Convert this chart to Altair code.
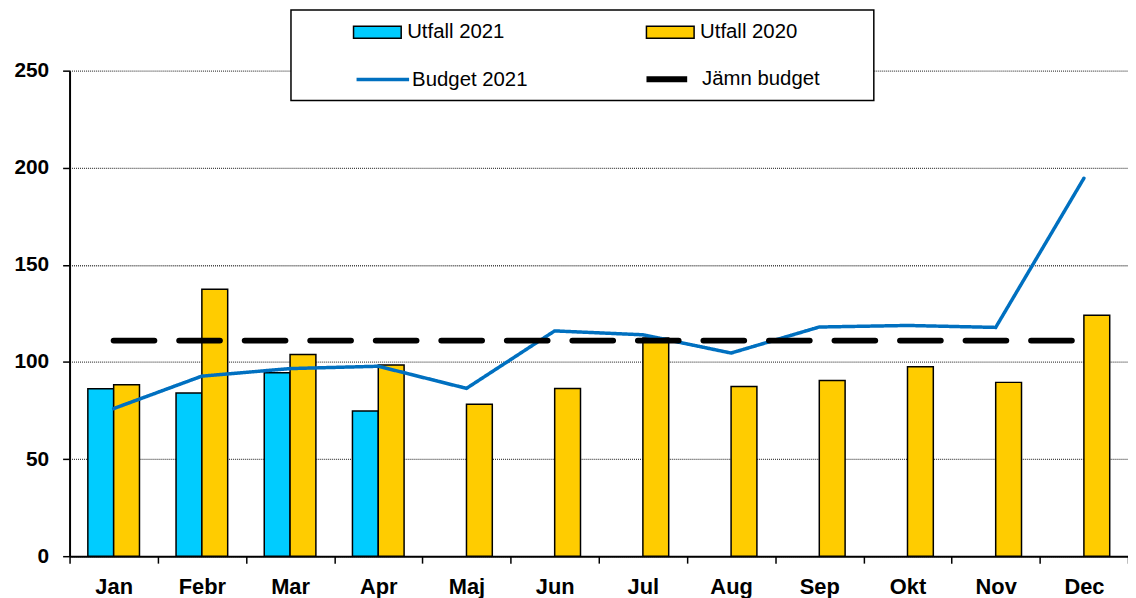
import altair as alt
import pandas as pd

months = ["Jan", "Febr", "Mar", "Apr", "Maj", "Jun", "Jul", "Aug", "Sep", "Okt", "Nov", "Dec"]
utfall_2021 = [86.2, 84.0, 94.4, 74.8, None, None, None, None, None, None, None, None]
utfall_2020 = [88.3, 137.5, 103.8, 98.5, 78.2, 86.4, 112.3, 87.4, 90.5, 97.6, 89.5, 124.0]
budget_2021 = [76.0, 92.7, 96.6, 97.8, 86.4, 116.0, 114.0, 104.6, 118.0, 118.8, 117.8, 194.6]
jamn_budget = [111.0] * 12

bar_series = ["Utfall 2021", "Utfall 2020"]
line_series = ["Budget 2021", "Jämn budget"]

bar_rows = []
for m, a, b in zip(months, utfall_2021, utfall_2020):
    if a is not None:
        bar_rows.append({"month": m, "series": "Utfall 2021", "value": a})
    if b is not None:
        bar_rows.append({"month": m, "series": "Utfall 2020", "value": b})
bar_df = pd.DataFrame(bar_rows)

line_rows = []
for m, a, b in zip(months, budget_2021, jamn_budget):
    line_rows.append({"month": m, "series": "Budget 2021", "value": a})
    line_rows.append({"month": m, "series": "Jämn budget", "value": b})
line_df = pd.DataFrame(line_rows)

FONT = "Liberation Sans"

x_enc = alt.X(
    "month:N", sort=months,
    scale=alt.Scale(domain=months, paddingInner=0, paddingOuter=0),
    axis=alt.Axis(title=None, labelAngle=0, labelFont=FONT, labelFontWeight="bold",
                  labelFontSize=22, labelColor="black", labelPadding=14,
                  tickBand="extent", tickSize=7, tickColor="black", tickWidth=1.5,
                  domainColor="black", domainWidth=2, grid=False),
)
y_enc = alt.Y(
    "value:Q",
    scale=alt.Scale(domain=[0, 250], nice=False),
    axis=alt.Axis(title=None, values=[0, 50, 100, 150, 200, 250], labelFont=FONT,
                  labelFontWeight="bold", labelFontSize=21, labelColor="black",
                  labelPadding=14, tickSize=7, tickColor="black", tickWidth=1.5,
                  domainColor="black", domainWidth=2, grid=True, gridColor="#444444",
                  gridDash=[1, 1], gridWidth=1.3),
)

box = alt.Chart(pd.DataFrame({"k": [0]})).mark_rect(
    fill="white", stroke="black", strokeWidth=1.5
).encode(x=alt.value(223), x2=alt.value(810), y=alt.value(-61), y2=alt.value(30))

bars = alt.Chart(bar_df).mark_bar(stroke="black", strokeWidth=1.5).encode(
    x=x_enc,
    xOffset=alt.XOffset("series:N", scale=alt.Scale(domain=bar_series, paddingInner=0, paddingOuter=0.708)),
    y=y_enc,
    fill=alt.Fill(
        "series:N",
        scale=alt.Scale(domain=bar_series, range=["#00CCFF", "#FFCC00"]),
        legend=alt.Legend(title=None, orient="none", legendX=285, legendY=-64,
                          direction="horizontal", columns=2, columnPadding=139,
                          symbolType="M-1,-0.25H1V0.25H-1Z", symbolSize=2304,
                          symbolStrokeColor="black", symbolStrokeWidth=1.5,
                          labelFont=FONT, labelFontSize=20.5, labelColor="black",
                          labelOffset=5, padding=0, labelLimit=300),
    ),
)

lines = alt.Chart(line_df).mark_line(strokeCap="round").encode(
    x=alt.X("month:N", sort=months),
    y=alt.Y("value:Q"),
    stroke=alt.Stroke(
        "series:N",
        scale=alt.Scale(domain=line_series, range=["#0070C0", "black"]),
        legend=alt.Legend(title=None, orient="none", legendX=286, legendY=-21,
                          direction="horizontal", columns=2, columnPadding=107,
                          symbolType="stroke", symbolSize=2800,
                          labelFont=FONT, labelFontSize=20.5, labelColor="black",
                          labelOffset=0, padding=0, labelLimit=300),
    ),
    strokeWidth=alt.StrokeWidth(
        "series:N", scale=alt.Scale(domain=line_series, range=[3.5, 6]),
    ),
    strokeDash=alt.StrokeDash(
        "series:N", scale=alt.Scale(domain=line_series, range=[[1, 0], [41, 25]]),
        legend=None,
    ),
)

chart = alt.layer(box, bars, lines).resolve_scale(
    color="independent"
).properties(
    width=1066, height=489,
    autosize=alt.AutoSizeParams(type="none"),
    padding={"left": 62, "top": 61, "right": 0, "bottom": 40},
).configure_view(stroke=None)

chart.save("out.html", embed_options={"renderer": "svg", "actions": False})
